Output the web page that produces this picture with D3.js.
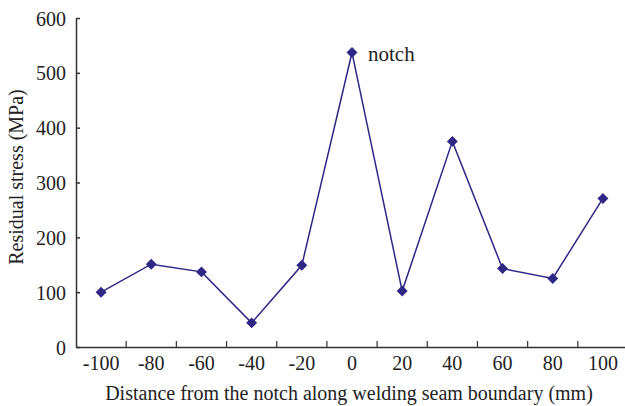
<!DOCTYPE html>
<html>
<head>
<meta charset="utf-8">
<script src="https://cdn.jsdelivr.net/npm/d3@7"></script>
<style>
  body { margin: 0; background: #fff; }
  text { font-family: "Liberation Serif", "Times New Roman", serif; fill: #222; }
</style>
</head>
<body>
<div class="chart"></div>
<script>
// data
const distances = [-100, -80, -60, -40, -20, 0, 20, 40, 60, 80, 100];
const stress = [100, 151, 137, 44, 149, 537, 102, 375, 143, 125, 271];
const yTicks = [0, 100, 200, 300, 400, 500, 600];
const peakLabel = "notch";

// setup chart
const width = 625;
const height = 406;
const margin = { top: 18, right: -3, bottom: 59, left: 76 };
const lineColor = "#2e2785";
const axisColor = "#333";

const svg = d3.select(".chart").append("svg").attr("width", width).attr("height", height);

const x = d3.scaleBand()
   .domain(distances)
   .range([margin.left, width - margin.right])
   .padding(0);

const y = d3.scaleLinear()
   .domain([0, 600])
   .range([height - margin.bottom, margin.top]);

// y axis, ticks pointing inward
const yAxis = svg.append("g")
   .attr("transform", `translate(${margin.left},0)`)
   .call(d3.axisLeft(y).tickValues(yTicks).tickSize(-4).tickPadding(10).tickSizeOuter(0));
yAxis.selectAll("text").style("font-size", "20px").attr("dy", "0.35em");

// x axis: labels at band centres, tick marks at band boundaries
const xAxis = svg.append("g")
   .attr("transform", `translate(0,${y(0)})`)
   .call(d3.axisBottom(x).tickSize(0).tickPadding(9).tickSizeOuter(0));
xAxis.selectAll("text").style("font-size", "20px").attr("dy", "0.71em");

xAxis.selectAll(".boundary")
   .data(distances.slice(1))
   .enter()
   .append("line")
   .attr("class", "boundary")
   .attr("x1", (d) => x(d))
   .attr("x2", (d) => x(d))
   .attr("y1", 0)
   .attr("y2", -6)
   .attr("stroke", axisColor);

svg.selectAll(".domain, .tick line").attr("stroke", axisColor).attr("stroke-width", 1.5);
xAxis.selectAll(".boundary").attr("stroke-width", 1.2);

// axis titles
svg.append("text")
   .attr("x", 349)
   .attr("y", 400)
   .attr("text-anchor", "middle")
   .style("font-size", "20px")
   .text("Distance from the notch along welding seam boundary (mm)");

svg.append("text")
   .attr("transform", `translate(23,177) rotate(-90)`)
   .attr("text-anchor", "middle")
   .style("font-size", "20px")
   .text("Residual stress (MPa)");

// line and markers
const cx = (d) => x(d) + x.bandwidth() / 2;
const points = distances.map((d, i) => [cx(d), y(stress[i])]);

svg.append("path")
   .datum(points)
   .attr("d", d3.line())
   .attr("fill", "none")
   .attr("stroke", lineColor)
   .attr("stroke-width", 1.5);

svg.selectAll(".marker")
   .data(points)
   .enter()
   .append("path")
   .attr("class", "marker")
   .attr("d", d3.symbol(d3.symbolSquare, 60))
   .attr("transform", (d) => `translate(${d[0]},${d[1]}) rotate(45)`)
   .attr("fill", lineColor);

// label at the peak
const peak = stress.indexOf(d3.max(stress));
svg.append("text")
   .attr("x", points[peak][0] + 16)
   .attr("y", points[peak][1] + 8)
   .style("font-size", "21px")
   .text(peakLabel);
</script>
</body>
</html>
